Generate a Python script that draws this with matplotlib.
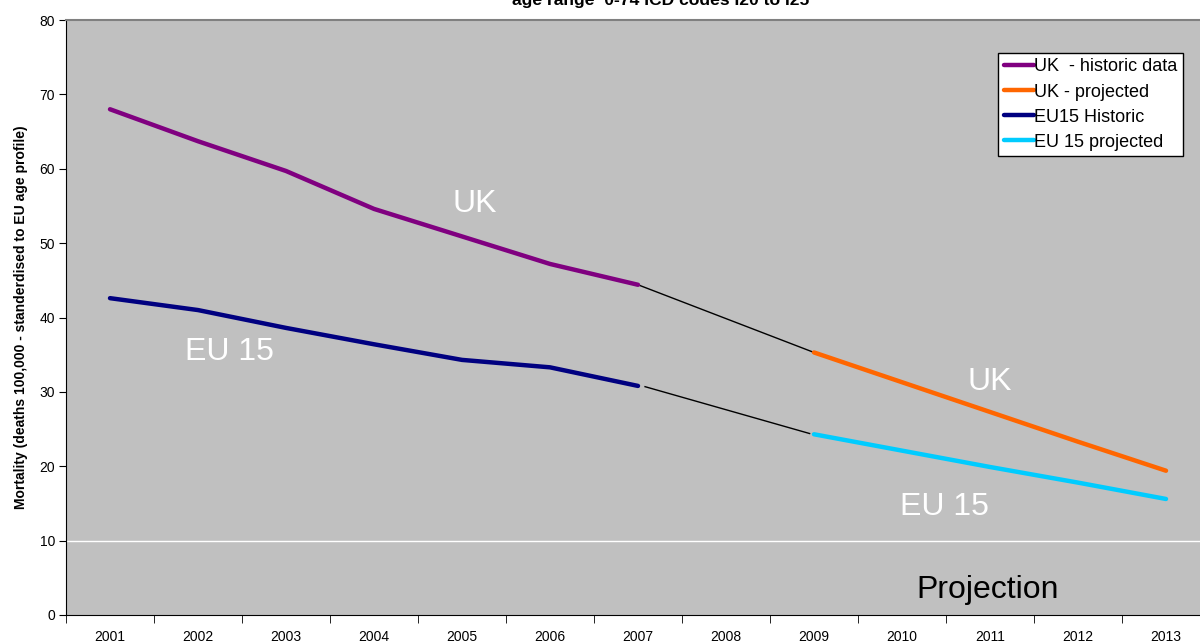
import matplotlib.pyplot as plt

plt.rcParams['font.family'] = ['Liberation Sans', 'DejaVu Sans']

# 年份类目
years = ['2001', '2002', '2003', '2004', '2005', '2006', '2007',
         '2008', '2009', '2010', '2011', '2012', '2013']

# 历史数据 2001-2007
uk_hist = [68.0, 63.7, 59.7, 54.6, 50.9, 47.2, 44.4]
eu_hist = [42.6, 41.0, 38.6, 36.4, 34.3, 33.3, 30.8]
# 预测数据 2009-2013
uk_proj = [35.3, 31.3, 27.3, 23.3, 19.4]
eu_proj = [24.3, 22.1, 19.9, 17.8, 15.6]

hist_x = list(range(0, 7))
proj_x = list(range(8, 13))

fig = plt.figure(figsize=(12, 6.44), dpi=100, facecolor='white')
ax = fig.add_axes([66 / 1200, 1 - 615 / 644, 1144 / 1200, 595 / 644])
ax.set_facecolor('#C0C0C0')

# 2007 到 2009 之间的细连接线
ax.plot([hist_x[-1], proj_x[0]], [uk_hist[-1], uk_proj[0]], color='black', lw=1, zorder=2)
ax.plot([hist_x[-1] + 0.08, proj_x[0] - 0.05], [eu_hist[-1] - 0.1, eu_proj[0] + 0.1],
        color='black', lw=1, zorder=2)

ax.plot(hist_x, uk_hist, color='#800080', lw=3.2, solid_capstyle='round', label='UK  - historic data', zorder=3)
ax.plot(proj_x, uk_proj, color='#FF6600', lw=3.2, solid_capstyle='round', label='UK - projected', zorder=3)
ax.plot(hist_x, eu_hist, color='#000080', lw=3.2, solid_capstyle='round', label='EU15 Historic', zorder=3)
ax.plot(proj_x, eu_proj, color='#00CCFF', lw=3.2, solid_capstyle='round', label='EU 15 projected', zorder=3)

# 只有 10 这一条白色网格线
ax.axhline(10, color='white', lw=1, zorder=1)

ax.set_ylim(0, 80)
ax.set_xlim(-0.5, 12.5)
ax.set_yticks(range(0, 81, 10))
ax.tick_params(axis='y', direction='out', length=5, labelsize=10, pad=3)
ax.set_xticks(range(13))
ax.set_xticklabels(years)
ax.set_xticks([i - 0.5 for i in range(14)], minor=True)
ax.tick_params(axis='x', which='major', length=0, labelsize=10, pad=11)
ax.tick_params(axis='x', which='minor', direction='out', length=6)

ax.spines['top'].set_color('#808080')
ax.spines['top'].set_linewidth(1.5)
ax.spines['right'].set_visible(False)
ax.spines['left'].set_color('black')
ax.spines['bottom'].set_color('black')

ax.set_ylabel('Mortality (deaths 100,000 - standerdised to EU age profile)',
              fontsize=10, fontweight='bold', labelpad=8)

# 曲线上的文字标注
ax.text(4.15, 55.3, 'UK', color='white', fontsize=23, ha='center', va='center')
ax.text(1.36, 35.3, 'EU 15', color='white', fontsize=23, ha='center', va='center')
ax.text(10.0, 31.3, 'UK', color='white', fontsize=23, ha='center', va='center')
ax.text(9.48, 14.5, 'EU 15', color='white', fontsize=23, ha='center', va='center')
ax.text(9.97, 3.3, 'Projection', color='black', fontsize=23, ha='center', va='center')

leg = ax.legend(loc='upper right', bbox_to_anchor=((1183 - 66) / 1144, 1 - 33 / 595),
                fontsize=13, frameon=True, fancybox=False, framealpha=1,
                handlelength=1.7, handletextpad=0.0, borderpad=0.3,
                labelspacing=0.45, borderaxespad=0)
leg.get_frame().set_edgecolor('black')
leg.get_frame().set_linewidth(1)

fig.text(661 / 1200, 1 - 5 / 644, 'age range  0-74 ICD codes I20 to I25',
         fontsize=12.6, fontweight='bold', ha='center', va='baseline')

fig.savefig('out.png', dpi=100)
